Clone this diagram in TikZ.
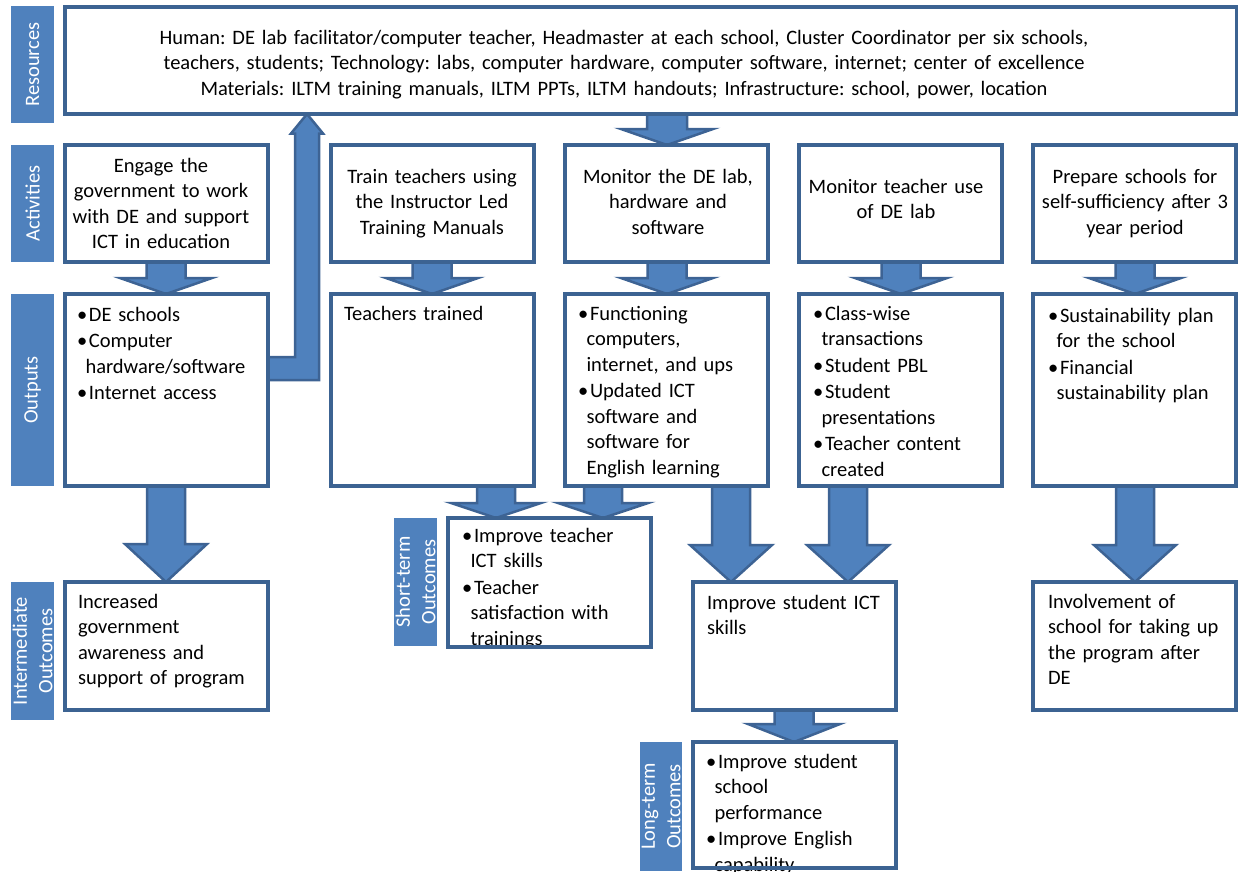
\documentclass[tikz,border=0pt]{standalone}
\usepackage{fontspec}
\setmainfont{Carlito}
\usetikzlibrary{calc}
\pgfdeclarelayer{background}
\pgfsetlayers{background,main}
\definecolor{accent}{HTML}{4F81BD}
\definecolor{edge}{HTML}{3C6392}
\definecolor{arrowedge}{HTML}{3D6394}
\frenchspacing
\newlength\bulletw \setlength\bulletw{12pt}
\newlength\contind \setlength\contind{8.5pt}
% line break inside a bulleted paragraph
\newcommand\nl{\hfil\break}
% bulleted paragraph with a hanging indent for wrapped lines
\newcommand\bitem[1]{\hangindent=\contind\hangafter=1\noindent\makebox[\bulletw][l]{\textbullet}#1\par}
% downward block arrow: x centre, from node, to node, shaft half width, head half width, head length
\newcommand\blockdown[6]{%
  \draw[blockarrow] let \p1=(#2.south), \p2=(#3.north) in
    (#1pt-#4pt,\y1) -- (#1pt-#4pt,\y2+#6pt) -- (#1pt-#5pt,\y2+#6pt) -- (#1pt,\y2)
    -- (#1pt+#5pt,\y2+#6pt) -- (#1pt+#4pt,\y2+#6pt) -- (#1pt+#4pt,\y1) -- cycle;}
\begin{document}
\begin{tikzpicture}[x=1pt,y=-1pt,
  every node/.style={font=\fontsize{20.5}{25.5}\selectfont, inner sep=0pt, outer sep=0pt},
  box/.style={draw=edge, line width=3.5pt, anchor=north west},
  sidelab/.style={fill=accent, text=white, rotate=90, align=center},
  ctext/.style={anchor=base, align=center, text width=230pt},
  ltext/.style={anchor=base west, align=left, text width=210pt},
  btext/.style={anchor=base west, text width=210pt,
    execute at begin node={\raggedright\setlength\parskip{1pt}}},
  blockarrow/.style={fill=accent, draw=arrowedge, line width=2.5pt, line join=miter}]
\useasboundingbox (0,0) rectangle (1238,871);

% row labels
\node[sidelab, minimum width=117pt, minimum height=43pt] (lres) at (32.5,64.5) {Resources};
\node[sidelab, minimum width=117pt, minimum height=43pt] (lact) at (32.5,203.5) {Activities};
\node[sidelab, minimum width=192pt, minimum height=43pt] (lout) at (32.5,390) {Outputs};
\node[sidelab, minimum width=138pt, minimum height=43pt] (lio) at (32.5,651) {Intermediate\\Outcomes};
\node[sidelab, minimum width=128pt, minimum height=43pt] (lst) at (415.5,582) {Short-term\\Outcomes};
\node[sidelab, minimum width=129pt, minimum height=42pt] (llt) at (661,806.5) {Long-term\\Outcomes};

% texts
\node[ctext, text width=1150pt] (tres) at (624,44) {Human: DE lab facilitator/computer teacher, Headmaster at each school, Cluster Coordinator per six schools,\\teachers, students; Technology: labs, computer hardware, computer software, internet; center of excellence\\Materials: ILTM training manuals, ILTM PPTs, ILTM handouts; Infrastructure: school, power, location};

\node[ctext] (ta1) at (161,172) {Engage the\\government to work\\with DE and support\\ICT in education};
\node[ctext] (ta2) at (432,183) {Train teachers using\\the Instructor Led\\Training Manuals};
\node[ctext] (ta3) at (668,183) {Monitor the DE lab,\\hardware and\\software};
\node[ctext] (ta4) at (896,193) {Monitor teacher use\\of DE lab};
\node[ctext] (ta5) at (1135,183) {Prepare schools for\\self-sufficiency after 3\\year period};

\node[btext] (to1) at (77,321) {\bitem{DE schools}\bitem{Computer\nl hardware/software}\bitem{Internet access}};
\node[ltext] (to2) at (344,320) {Teachers trained};
\node[btext] (to3) at (578,320) {\bitem{Functioning\nl computers,\nl internet, and ups}\bitem{Updated ICT\nl software and\nl software for\nl English learning}};
\node[btext] (to4) at (813,320) {\bitem{Class-wise\nl transactions}\bitem{Student PBL}\bitem{Student\nl presentations}\bitem{Teacher content\nl created}};
\node[btext] (to5) at (1048,322) {\bitem{Sustainability plan\nl for the school}\bitem{Financial\nl sustainability plan}};

\node[btext] (tst) at (462,542) {\bitem{Improve teacher\nl ICT skills}\bitem{Teacher\nl satisfaction with\nl trainings}};
\node[ltext] (tio) at (78,608) {Increased\\government\\awareness and\\support of program};
\node[ltext] (tict) at (707,609) {Improve student ICT\\skills};
\node[ltext] (tinv) at (1048,608) {Involvement of\\school for taking up\\the program after\\DE};
\node[btext] (tlt) at (706,768) {\bitem{Improve student\nl school\nl performance}\bitem{Improve English\nl capability}};

% boxes
\node[box, minimum width=1172pt, minimum height=107pt] (res) at (65,7) {};
\node[box, minimum width=203pt, minimum height=117pt] (a1) at (65,145) {};
\node[box, minimum width=203pt, minimum height=117pt] (a2) at (331,145) {};
\node[box, minimum width=203pt, minimum height=117pt] (a3) at (565,145) {};
\node[box, minimum width=203pt, minimum height=117pt] (a4) at (799,145) {};
\node[box, minimum width=203pt, minimum height=117pt] (a5) at (1033,145) {};
\node[box, minimum width=203pt, minimum height=192pt] (o1) at (65,294) {};
\node[box, minimum width=203pt, minimum height=192pt] (o2) at (331,294) {};
\node[box, minimum width=203pt, minimum height=192pt] (o3) at (565,294) {};
\node[box, minimum width=203pt, minimum height=192pt] (o4) at (799,294) {};
\node[box, minimum width=203pt, minimum height=192pt] (o5) at (1033,294) {};
\node[box, minimum width=203pt, minimum height=129pt] (st) at (448,518) {};
\node[box, minimum width=203pt, minimum height=128pt] (io) at (65,582) {};
\node[box, minimum width=203pt, minimum height=128pt] (ict) at (693,582) {};
\node[box, minimum width=203pt, minimum height=128pt] (inv) at (1033,582) {};
\node[box, minimum width=203pt, minimum height=126pt] (lt) at (693,742) {};

% block arrows
\begin{pgfonlayer}{background}
\blockdown{667}{res}{a3}{20}{46}{16}
\blockdown{166}{a1}{o1}{19.5}{46}{16}
\blockdown{432}{a2}{o2}{19.5}{46}{16}
\blockdown{667}{a3}{o3}{19.5}{46}{16}
\blockdown{901}{a4}{o4}{19.5}{46}{16}
\blockdown{1135}{a5}{o5}{19.5}{46}{16}
\blockdown{496}{o2}{st}{19}{45}{15}
\blockdown{603}{o3}{st}{19}{45}{15}
\blockdown{166}{o1}{io}{19}{41}{38}
\blockdown{731}{o3}{ict}{19}{41}{37}
\blockdown{848}{o4}{ict}{19}{41}{37}
\blockdown{1135}{o5}{inv}{19}{41}{37}
\blockdown{794}{ict}{lt}{19.5}{46}{18}
% elbow arrow from the first outputs box up to the resources box
\draw[blockarrow] let \p1=(o1.east), \p2=(res.south) in
  (\x1,-357pt) -- (295pt,-357pt) -- (295pt,\y2-19.5pt) -- (291pt,\y2-19.5pt) -- (307pt,\y2)
  -- (323pt,\y2-19.5pt) -- (319pt,\y2-19.5pt) -- (319pt,-380pt) -- (\x1,-380pt) -- cycle;
\end{pgfonlayer}
\end{tikzpicture}
\end{document}
